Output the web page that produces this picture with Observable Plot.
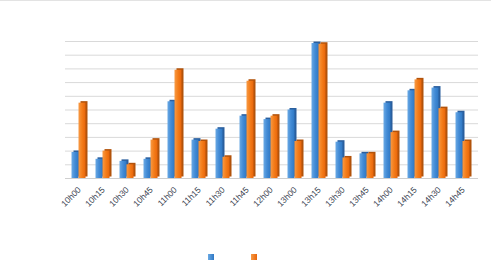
<!DOCTYPE html>
<html>
<head>
<meta charset="utf-8">
<script src="https://cdn.jsdelivr.net/npm/d3@7"></script>
<script src="https://cdn.jsdelivr.net/npm/@observablehq/plot@0.6"></script>
<style>
  html, body { margin: 0; padding: 0; background: #fff; }
  #wrap { position: relative; width: 491px; height: 271px; box-sizing: border-box; border-top: 1px solid #e3e3e3; overflow: hidden; }
  #legend { position: absolute; left: 0; top: 0; width: 491px; height: 271px; pointer-events: none; }
  .sw { position: absolute; width: 6px; height: 6px; top: 253px; }
</style>
</head>
<body>
<div id="wrap">
  <div id="chart"></div>
  <div id="legend">
    <div class="sw" style="left:208px;background:linear-gradient(90deg,#6aa9e4,#2f78c4);"></div>
    <div class="sw" style="left:251px;background:linear-gradient(90deg,#f79a45,#e8650a);"></div>
  </div>
</div>
<script>
const categories = ["10h00","10h15","10h30","10h45","11h00","11h15","11h30","11h45","12h00","13h00","13h15","13h30","13h45","14h00","14h15","14h30","14h45"];
const blueValues = [1.9,1.4,1.25,1.4,5.6,2.8,3.6,4.55,4.3,5.0,9.85,2.65,1.8,5.5,6.4,6.6,4.8];
const orangeValues = [5.5,2.0,1.0,2.8,7.9,2.7,1.55,7.1,4.55,2.7,9.8,1.5,1.8,3.35,7.2,5.1,2.7];
const gridTicks = [0,1,2,3,4,5,6,7,8,9,10];

const blueData = categories.map((c, i) => ({cat: c, v: blueValues[i]}));
const orangeData = categories.map((c, i) => ({cat: c, v: orangeValues[i]}));

const chart = Plot.plot({
  width: 491,
  height: 245,
  marginTop: 40,
  marginBottom: 68,
  marginLeft: 67,
  marginRight: 16,
  style: {background: "transparent", fontFamily: "'Liberation Sans', Arial, sans-serif"},
  x: {type: "band", domain: categories, padding: 0},
  y: {domain: [0, 10]},
  marks: [
    Plot.ruleY(gridTicks.slice(1), {stroke: "#d9d9d9", strokeWidth: 1, insetLeft: -2, insetRight: -3}),
    Plot.ruleY([0], {stroke: "#cfcfcf", strokeWidth: 1.2, insetLeft: -2, insetRight: -3}),
    // blue side/top faces
    Plot.barY(blueData, {x: "cat", y: "v", fill: "#2a5f9e", insetLeft: 4.5, insetRight: 12.5, dx: 2, dy: -1.5}),
    Plot.barY(blueData, {x: "cat", y: "v", fill: "url(#gBlue)", insetLeft: 4.5, insetRight: 12.5}),
    // orange side/top faces
    Plot.barY(orangeData, {x: "cat", y: "v", fill: "#b2530b", insetLeft: 11.5, insetRight: 5.5, dx: 2, dy: -1.5}),
    Plot.barY(orangeData, {x: "cat", y: "v", fill: "url(#gOrange)", insetLeft: 11.5, insetRight: 5.5}),
    Plot.axisX({tickRotate: -45, tickSize: 0, tickPadding: 10, fontSize: 8.5, fill: "#3a4250", label: null}),
    Plot.axisY({ticks: [], label: null, tickSize: 0})
  ]
});

const ns = "http://www.w3.org/2000/svg";
const defs = document.createElementNS(ns, "defs");
function grad(id, stops) {
  const g = document.createElementNS(ns, "linearGradient");
  g.setAttribute("id", id);
  g.setAttribute("x1", "0"); g.setAttribute("x2", "1");
  g.setAttribute("y1", "0"); g.setAttribute("y2", "0");
  stops.forEach(([o, c]) => {
    const s = document.createElementNS(ns, "stop");
    s.setAttribute("offset", o);
    s.setAttribute("stop-color", c);
    g.appendChild(s);
  });
  defs.appendChild(g);
}
grad("gBlue", [["0", "#6aa9e4"], ["0.5", "#428bd6"], ["1", "#2f78c4"]]);
grad("gOrange", [["0", "#f79a45"], ["0.5", "#f47d1a"], ["1", "#e8650a"]]);
chart.insertBefore(defs, chart.firstChild);

document.getElementById("chart").appendChild(chart);
</script>
</body>
</html>
